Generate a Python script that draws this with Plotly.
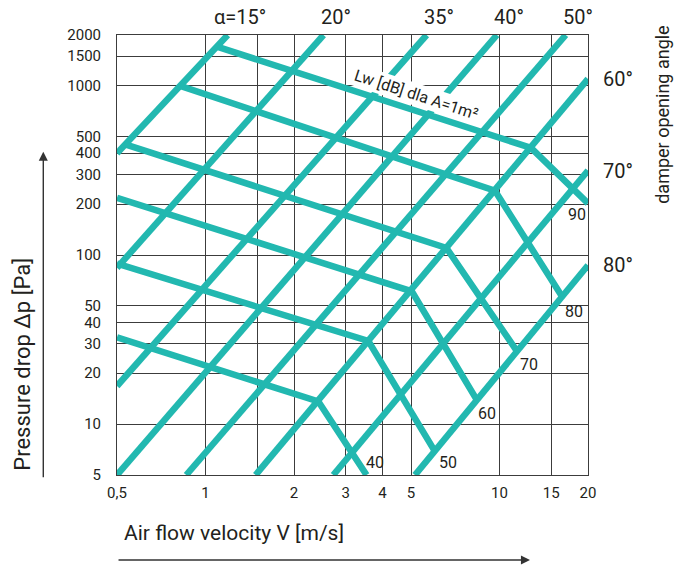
import math
import plotly.graph_objects as go

# ---------------- data ----------------
# damper opening angle lines (pressure drop vs velocity), start and end points
ANGLE_LABELS = ["α=15°", "20°", "35°", "40°", "50°", "60°", "70°", "80°"]
ANGLE_V_START = [0.5, 0.5, 0.5, 0.5, 0.86, 1.48, 2.72, 5.16]
ANGLE_DP_START = [400, 84, 16.8, 5, 5, 5, 5, 5]
ANGLE_V_END = [1.19, 2.52, 5.65, 9.8, 16.8, 20, 20, 20]
ANGLE_DP_END = [2000, 2000, 2000, 2000, 2000, 1100, 316, 87]

# sound power level lines Lw [dB]: start, knee, end
LW_LABELS = ["90", "80", "70", "60", "50", "40"]
LW_V_START = [1.1, 0.82, 0.53, 0.5, 0.5, 0.5]
LW_DP_START = [1700, 1000, 453, 218, 89, 32.6]
LW_V_KNEE = [12.8, 9.65, 6.6, 5.03, 3.58, 2.42]
LW_DP_KNEE = [430, 240, 110, 61, 31, 13.6]
LW_V_END = [20, 16.3, 11.4, 8.37, 6.03, 3.53]
LW_DP_END = [202, 57, 27.4, 13.9, 6.9, 5]

X_TICKS = [0.5, 1, 1.5, 2, 3, 4, 5, 10, 15, 20]
X_TICKTEXT = ["0,5", "1", "", "2", "3", "4", "5", "10", "15", "20"]
Y_TICKS = [5, 10, 20, 30, 40, 50, 100, 200, 300, 400, 500, 1000, 1500, 2000]
Y_TICKTEXT = [str(v) for v in Y_TICKS]

# ---------------- styling ----------------
TEAL = "#22B8B0"
INK = "#231F20"
GRID = "#3C3C3C"
FONT = "Roboto"
LW = 6.5

L = math.log10  # annotations on log axes are placed in log10 units

fig = go.Figure()

for i in range(len(ANGLE_LABELS)):
    fig.add_trace(go.Scatter(
        x=[ANGLE_V_START[i], ANGLE_V_END[i]],
        y=[ANGLE_DP_START[i], ANGLE_DP_END[i]],
        mode="lines", line=dict(color=TEAL, width=LW),
        hoverinfo="skip", showlegend=False))

for i in range(len(LW_LABELS)):
    fig.add_trace(go.Scatter(
        x=[LW_V_START[i], LW_V_KNEE[i], LW_V_END[i]],
        y=[LW_DP_START[i], LW_DP_KNEE[i], LW_DP_END[i]],
        mode="lines", line=dict(color=TEAL, width=LW),
        hoverinfo="skip", showlegend=False))

annotations = []

# angle labels: top ones above the upper end, right ones beside the right end
for i, lab in enumerate(ANGLE_LABELS):
    if ANGLE_DP_END[i] >= 2000:
        annotations.append(dict(
            x=L(ANGLE_V_END[i]), y=L(ANGLE_DP_END[i]), xref="x", yref="y",
            text=lab, showarrow=False, xanchor="center", yanchor="middle",
            xshift=12, yshift=18, font=dict(family=FONT, size=20, color=INK)))
    else:
        annotations.append(dict(
            x=L(ANGLE_V_END[i]), y=L(ANGLE_DP_END[i]), xref="x", yref="y",
            text=lab, showarrow=False, xanchor="left", yanchor="middle",
            xshift=13, yshift=0, font=dict(family=FONT, size=20, color=INK)))

# Lw value labels at the lower ends of the Lw lines
LW_LABEL_SHIFT = [(-22, -11), (1, -15), (2, -14), (-1, -14), (2, -11), (-3, 13)]
for i, lab in enumerate(LW_LABELS):
    dx, dy = LW_LABEL_SHIFT[i]
    annotations.append(dict(
        x=L(LW_V_END[i]), y=L(LW_DP_END[i]), xref="x", yref="y",
        text=lab, showarrow=False, xanchor="left", yanchor="middle",
        xshift=dx, yshift=dy, font=dict(family=FONT, size=16, color=INK)))

# rotated label along the top Lw line
annotations.append(dict(
    x=L(5.2), y=L(895), xref="x", yref="y", text="Lw [dB] dla A=1m²",
    showarrow=False, textangle=18, bgcolor="white", borderpad=1,
    font=dict(family=FONT, size=16, color=INK)))

# axis titles
annotations.append(dict(
    x=-0.2002, y=0.2523, xref="paper", yref="paper",
    text="Pressure drop Δp [Pa]", showarrow=False, textangle=-90,
    xanchor="center", yanchor="middle",
    font=dict(family=FONT, size=22, color=INK)))
annotations.append(dict(
    x=0.01, y=-0.1325, xref="paper", yref="paper",
    text="Air flow velocity V [m/s]", showarrow=False,
    xanchor="left", yanchor="middle",
    font=dict(family=FONT, size=21, color=INK)))
annotations.append(dict(
    x=1.1565, y=0.818, xref="paper", yref="paper",
    text="damper opening angle", showarrow=False, textangle=-90,
    xanchor="center", yanchor="middle",
    font=dict(family=FONT, size=18, color=INK)))

# axis arrows
annotations.append(dict(
    x=-0.1565, y=0.7348, xref="paper", yref="paper", text="",
    showarrow=True, ax=0, ay=327, arrowhead=2, arrowsize=1.3,
    arrowwidth=1.4, arrowcolor="#333333"))
annotations.append(dict(
    x=0.8769, y=-0.1932, xref="paper", yref="paper", text="",
    showarrow=True, ax=-413, ay=0, arrowhead=2, arrowsize=1.3,
    arrowwidth=1.4, arrowcolor="#333333"))

axis_common = dict(
    type="log", showgrid=True, gridcolor=GRID, gridwidth=1,
    showline=True, mirror=True, linecolor=GRID, linewidth=1,
    zeroline=False, ticks="", tickfont=dict(family=FONT, size=15, color=INK),
)

fig.update_layout(
    width=684, height=570,
    margin=dict(l=117, r=96, t=35, b=95),
    paper_bgcolor="white", plot_bgcolor="white",
    showlegend=False,
    xaxis=dict(range=[L(0.5), L(20)],
               tickvals=X_TICKS, ticktext=X_TICKTEXT, tickangle=0,
               ticklabelstandoff=4, **axis_common),
    yaxis=dict(range=[L(5), L(2000)],
               tickvals=Y_TICKS, ticktext=Y_TICKTEXT,
               ticklabelstandoff=12, **axis_common),
    annotations=annotations,
)

fig.write_html("out.html")
